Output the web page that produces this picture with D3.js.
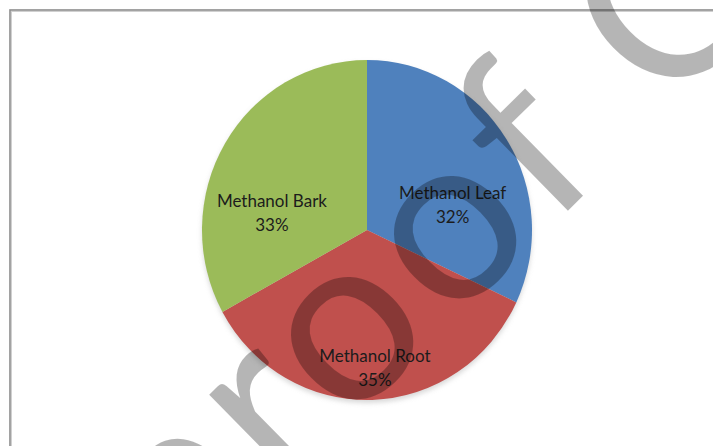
<!DOCTYPE html>
<html>
<head>
<meta charset="utf-8">
<script src="https://cdn.jsdelivr.net/npm/d3@7"></script>
<style>
  html, body { margin: 0; padding: 0; background: #fff; }
  svg { display: block; }
  .label { font-family: Lato, "Open Sans", sans-serif; font-size: 17px; fill: #1c1c1c; }
</style>
</head>
<body>
<svg id="chart" width="713" height="446"></svg>
<script>
// chart data
const categories = ['Methanol Leaf', 'Methanol Root', 'Methanol Bark']
const shares = [32, 35, 33]
const colors = ['#4f81bd', '#c0504d', '#9bbb59']
// where each label sits inside its slice: [angle from 12 o'clock, fraction of radius]
const labelSpots = [[74, 0.54], [176.6, 0.81], [280, 0.585]]

const W = 713
const H = 446
const svg = d3.select('#chart')

// frame of the chart area, runs off the right and bottom edge
svg.append('rect')
  .attr('x', 10.5).attr('y', 10.5)
  .attr('width', W + 40).attr('height', H + 40)
  .attr('fill', 'none').attr('stroke', '#d0d0d0').attr('stroke-width', 3)
svg.append('rect')
  .attr('x', 10).attr('y', 10)
  .attr('width', W + 40).attr('height', H + 40)
  .attr('fill', 'none').attr('stroke', '#8a8a8a').attr('stroke-width', 1.3)

/**
 * pie, slightly taller than wide like the original
 */
const cx = 367
const cy = 230
const ry = 170
const rx = 165

const defs = svg.append('defs')
defs.append('filter').attr('id', 'soft')
  .attr('x', '-10%').attr('y', '-10%').attr('width', '120%').attr('height', '120%')
  .append('feGaussianBlur').attr('stdDeviation', 2.5)

const pieG = svg.append('g')
  .attr('transform', `translate(${cx},${cy}) scale(${rx / ry},1)`)

// faint shadow beneath the pie
pieG.append('ellipse')
  .attr('cx', 0).attr('cy', 3).attr('rx', ry).attr('ry', ry)
  .attr('fill', '#bdbdbd').attr('opacity', 0.6)
  .attr('filter', 'url(#soft)')

const pie = d3.pie().sort(null).value(d => d)
const arcs = pie(shares)
const arc = d3.arc().innerRadius(0).outerRadius(ry)

pieG.selectAll('path.slice')
  .data(arcs)
  .join('path')
  .attr('class', 'slice')
  .attr('d', arc)
  .attr('fill', (d, i) => colors[i])

// labels: name and percent on two lines
const total = d3.sum(shares)
const labels = svg.append('g')
arcs.forEach((d, i) => {
  const [deg, frac] = labelSpots[i]
  const a = deg * Math.PI / 180
  const x = cx + Math.sin(a) * rx * frac
  const y = cy - Math.cos(a) * ry * frac
  const t = labels.append('text')
    .attr('class', 'label')
    .attr('text-anchor', 'middle')
    .attr('x', x).attr('y', y)
  t.append('tspan').attr('x', x).attr('dy', '-0.35em').text(categories[i])
  t.append('tspan').attr('x', x).attr('dy', '1.45em')
    .text(`${Math.round(shares[i] / total * 100)}%`)
})

/**
 * "proof" watermark laid over everything
 * placed so that the two o's land on their spots in the original
 */
const wmText = 'Pre-proof Copy'
const wmFirstO = 6
const oA = [352, 338]
const oB = [455, 237]
const wmSize = 236
const angle = Math.atan2(oB[1] - oA[1], oB[0] - oA[0])
const step = Math.hypot(oB[0] - oA[0], oB[1] - oA[1])
const drop = wmSize * 0.255 // half x-height, from glyph centre down to baseline
const bx = oA[0] - Math.sin(angle) * drop
const by = oA[1] + Math.cos(angle) * drop

const wm = svg.append('g')
  .attr('transform', `translate(${bx},${by}) rotate(${angle * 180 / Math.PI})`)
const wt = wm.append('text')
  .attr('font-family', 'Lato, "Liberation Sans", sans-serif')
  .attr('font-size', wmSize)
  .attr('fill', '#000')
  .attr('fill-opacity', 0.29)
  .text(wmText)
const node = wt.node()
const oAdv = node.getSubStringLength(wmFirstO, 1)
wt.attr('letter-spacing', step - oAdv)
const s = node.getStartPositionOfChar(wmFirstO).x
wt.attr('x', -(s + oAdv / 2))
</script>
</body>
</html>
